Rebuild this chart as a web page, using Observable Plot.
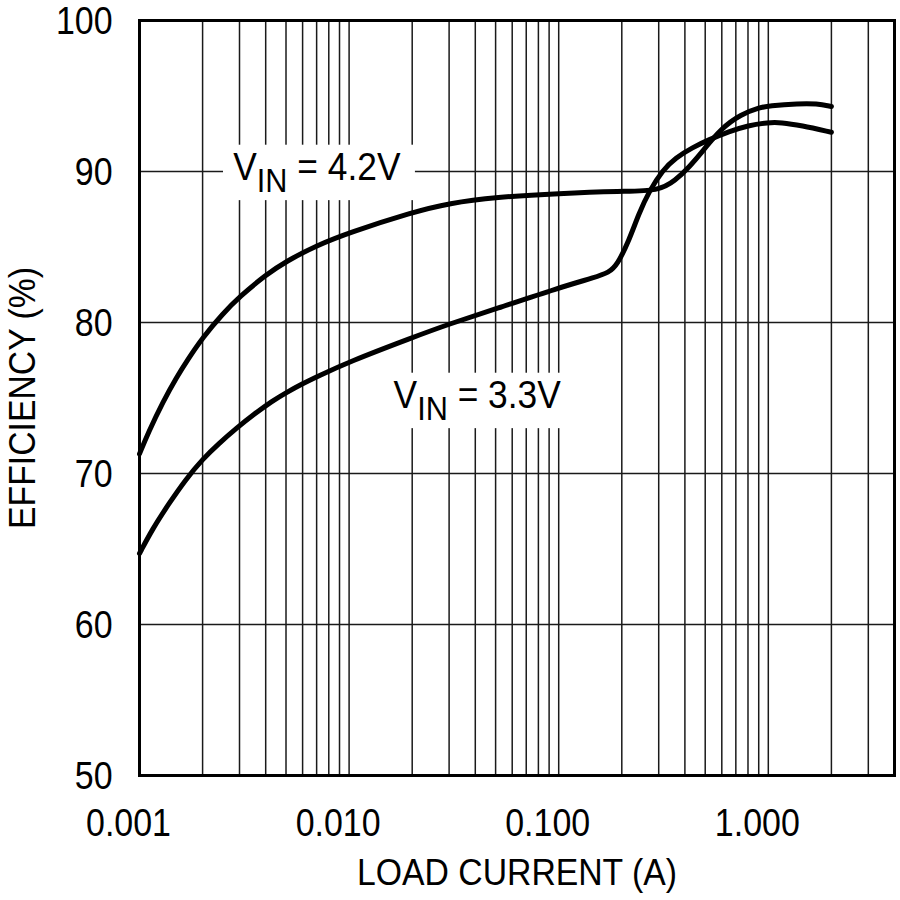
<!DOCTYPE html>
<html><head><meta charset="utf-8">
<script src="https://cdn.jsdelivr.net/npm/d3@7"></script>
<script src="https://cdn.jsdelivr.net/npm/@observablehq/plot@0.6"></script>
<style>
body{margin:0;background:#fff;}
#chart{width:900px;height:900px;}
</style></head><body><div id="chart"></div>
<script>
// ---- data ----
const current42 = [0.001, 0.0011, 0.0013, 0.0015, 0.0017, 0.002, 0.0025, 0.003, 0.004, 0.005, 0.007, 0.01, 0.02, 0.03, 0.05, 0.1, 0.2, 0.3, 0.36, 0.42, 0.49, 0.59, 0.74, 0.92, 1.0, 1.4, 1.7, 2.0];
const eff42     = [71.3, 72.7, 74.8, 76.35, 77.55, 79.0, 80.6, 81.7, 83.15, 84.05, 85.1, 85.95, 87.3, 87.9, 88.3, 88.55, 88.7, 88.7, 89.4, 90.3, 91.4, 92.8, 93.8, 94.25, 94.35, 94.5, 94.5, 94.3];
const current33 = [0.001, 0.00115, 0.00138, 0.00166, 0.002, 0.0024, 0.0029, 0.0035, 0.0043, 0.005, 0.006, 0.007, 0.01, 0.02, 0.03, 0.05, 0.1, 0.15, 0.173, 0.19, 0.216, 0.241, 0.27, 0.314, 0.36, 0.436, 0.52, 0.65, 0.8, 1.0, 1.15, 1.43, 2.0];
const eff33     = [64.7, 66.3, 68.0, 69.6, 70.95, 72.0, 73.0, 73.9, 74.8, 75.35, 75.95, 76.4, 77.4, 79.0, 79.9, 80.9, 82.3, 83.0, 83.3, 83.8, 85.4, 87.2, 88.7, 90.1, 90.9, 91.6, 92.1, 92.65, 93.05, 93.25, 93.25, 93.05, 92.6];
const seriesNames = ["4.2V", "3.3V"];

const xTickValues = [0.001, 0.01, 0.1, 1];
const xTickLabels = ["0.001", "0.010", "0.100", "1.000"];
const yTickValues = [50, 60, 70, 80, 90, 100];
const yGridValues = [60, 70, 80, 90];
const decades = [0.001, 0.01, 0.1, 1];
const multipliers = [1, 2, 3, 4, 5, 6, 7, 8, 9];
const xDomain = [0.001, 4];
const yDomain = [50, 100];

const labelTexts = ["VIN = 4.2V", "VIN = 3.3V"];
const labelCurrents = [0.0028, 0.0163];
const labelEffs = [90.25, 75.15];

const xTitle = "LOAD CURRENT (A)";
const yTitle = "EFFICIENCY (%)";

// ---- tables ----
const rows = [
  ...current42.map((c, i) => ({vin: seriesNames[0], current: c, eff: eff42[i]})),
  ...current33.map((c, i) => ({vin: seriesNames[1], current: c, eff: eff33[i]}))
];
const gridCurrents = decades.flatMap(d => multipliers.map(m => d * m)).filter(v => v < xDomain[1]);
const annotations = labelTexts.map((t, i) => ({label: t, current: labelCurrents[i], eff: labelEffs[i]}));

const FONT = "'Liberation Sans', Arial, Helvetica, sans-serif";

const chart = Plot.plot({
  width: 900, height: 900,
  marginLeft: 139, marginRight: 6, marginTop: 20, marginBottom: 125,
  x: {type: "log", domain: xDomain},
  y: {domain: yDomain},
  style: {fontFamily: FONT, fontSize: "38px", color: "#000", background: "#fff"},
  marks: [
    Plot.ruleX(gridCurrents, {stroke: "#1a1a1a", strokeWidth: 1.5}),
    Plot.ruleY(yGridValues, {stroke: "#1a1a1a", strokeWidth: 1.5}),
    Plot.frame({stroke: "#000", strokeWidth: 3}),
    Plot.line(rows, {x: "current", y: "eff", z: "vin", curve: "basis", stroke: "#000", strokeWidth: 5, strokeLinejoin: "round"}),
    Plot.text(annotations, {x: "current", y: "eff", text: "label", textAnchor: "start", lineAnchor: "middle", fontSize: 38, fill: "#000"}),
    Plot.axisX({ticks: xTickValues, tickFormat: d => xTickLabels[xTickValues.indexOf(d)], tickSize: 0, tickPadding: 33, dx: -11, fontSize: 39, label: null}),
    Plot.axisY({ticks: yTickValues, tickSize: 0, tickPadding: 27, dy: 1, fontSize: 39, label: null}),
    Plot.text([xTitle], {frameAnchor: "bottom", textAnchor: "middle", lineAnchor: "top", dy: 83, fontSize: 37.5, fill: "#000"}),
    Plot.text([yTitle], {frameAnchor: "left", textAnchor: "middle", lineAnchor: "top", rotate: -90, dx: -131, fontSize: 37.5, fill: "#000"})
  ]
});
document.getElementById("chart").append(chart);

const ns = "http://www.w3.org/2000/svg";
// condensed look: scale every text horizontally about its anchor
function condense(t, s) {
  let tr = t.getAttribute("transform");
  if (!tr) {
    const x = +(t.getAttribute("x") || 0), y = +(t.getAttribute("y") || 0);
    t.removeAttribute("x"); t.removeAttribute("y");
    tr = `translate(${x},${y})`;
  }
  t.setAttribute("transform", `${tr} scale(${s},1)`);
}

chart.querySelectorAll("text").forEach(t => {
  const txt = t.textContent;
  const m = txt.match(/^VIN = (.*)$/);
  if (!m) { condense(t, (txt === xTitle || txt === yTitle) ? 0.9 : 0.87); return; }
  condense(t, 0.93);
  t.textContent = "";
  const a = document.createElementNS(ns, "tspan"); a.textContent = "V";
  const b = document.createElementNS(ns, "tspan"); b.textContent = "IN";
  b.setAttribute("font-size", "33"); b.setAttribute("dy", "12");
  const c = document.createElementNS(ns, "tspan"); c.textContent = " = " + m[1];
  c.setAttribute("dy", "-12");
  t.append(a, b, c);
  const bb = t.getBBox();
  const r = document.createElementNS(ns, "rect");
  r.setAttribute("x", bb.x - 11); r.setAttribute("y", bb.y - 1);
  r.setAttribute("width", bb.width + 26); r.setAttribute("height", bb.height + 2);
  r.setAttribute("fill", "#fff");
  r.setAttribute("transform", t.getAttribute("transform"));
  t.parentNode.insertBefore(r, t);
});
</script></body></html>
